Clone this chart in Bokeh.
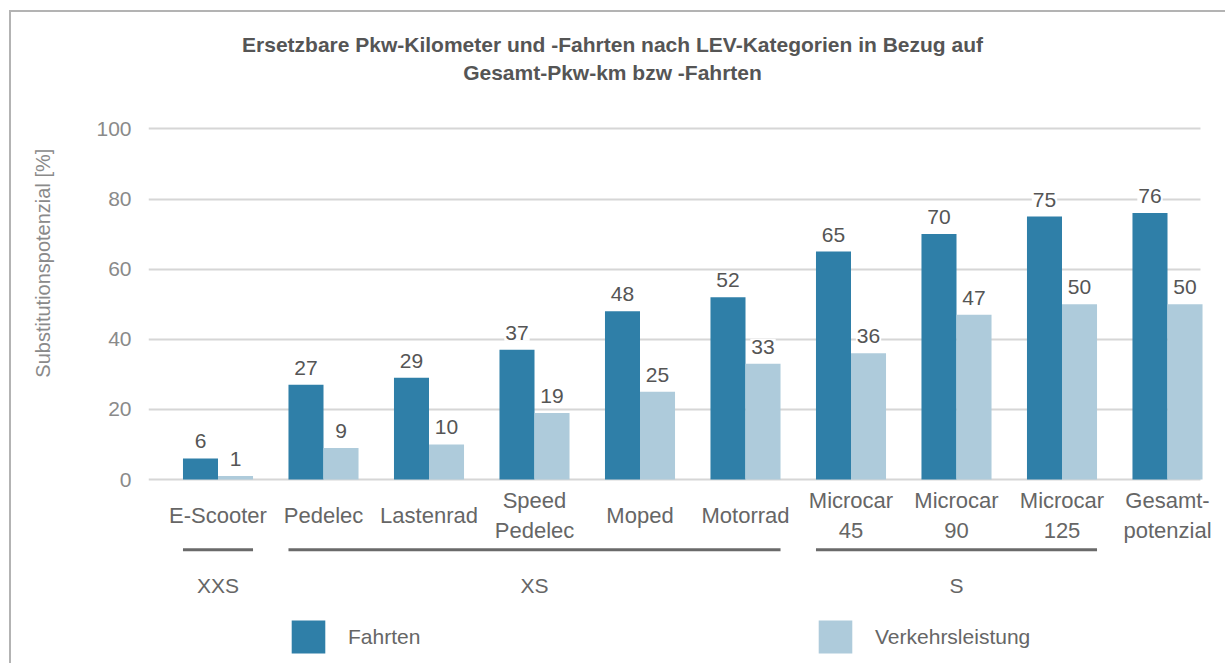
import numpy as np
from bokeh.plotting import figure
from bokeh.models import Range1d, FixedTicker, ColumnDataSource, Label, Legend, LegendItem
from bokeh.core.properties import value
from bokeh.embed import file_html
from bokeh.resources import INLINE

# ---- data ----
categories = ["E-Scooter", "Pedelec", "Lastenrad", "Speed\nPedelec", "Moped", "Motorrad",
              "Microcar\n45", "Microcar\n90", "Microcar\n125", "Gesamt-\npotenzial"]
fahrten = [6, 27, 29, 37, 48, 52, 65, 70, 75, 76]
verkehrsleistung = [1, 9, 10, 19, 25, 33, 36, 47, 50, 50]
groups = ["XXS", "XS", "S"]
group_first = [0, 1, 6]
group_last = [0, 5, 8]
y_ticks = [0, 20, 40, 60, 80, 100]
series_names = ["Fahrten", "Verkehrsleistung"]
title_text = "Ersetzbare Pkw-Kilometer und -Fahrten nach LEV-Kategorien in Bezug auf\nGesamt-Pkw-km bzw -Fahrten"
y_title = "Substitutionspotenzial [%]"

# ---- style ----
FONT = value("Liberation Sans")
DARK = "#2f7fa8"
LIGHT = "#aecbdb"
TXT = "#666666"
off = 0.166
bw = 0.332
X0, X1, XG = -0.6588, 9.5687, 9.3128

x = np.arange(len(categories))

p = figure(width=1216, height=653, output_backend="svg", toolbar_location=None,
           x_range=Range1d(X0, X1), y_range=Range1d(-53.05, 133.2),
           x_axis_location=None, min_border_left=137, min_border_right=0,
           min_border_top=0, min_border_bottom=0)
p.styles = {"margin-left": "9px", "margin-top": "10px",
            "border-top": "2px solid #b3b3b3", "border-left": "2px solid #b3b3b3"}
p.outline_line_color = None
p.background_fill_color = "white"
p.border_fill_color = "white"
p.xgrid.grid_line_color = None

p.yaxis.ticker = FixedTicker(ticks=y_ticks)
p.yaxis.axis_line_color = None
p.yaxis.major_tick_line_color = None
p.yaxis.minor_tick_line_color = None
p.yaxis.major_tick_out = 0
p.yaxis.major_tick_in = 0
p.yaxis.minor_tick_out = 0
p.yaxis.major_label_standoff = 17
p.yaxis.major_label_text_font = "Liberation Sans"
p.yaxis.major_label_text_font_size = "21px"
p.yaxis.major_label_text_color = "#8a8a8a"

grid = p.ygrid[0]
grid.ticker = FixedTicker(ticks=y_ticks)
grid.grid_line_color = "#d6d6d6"
grid.grid_line_width = 2
if "cross_bounds" in grid.properties():
    grid.cross_bounds = (X0, XG)
else:
    grid.grid_line_color = None
    p.segment(x0=[X0] * len(y_ticks), x1=[XG] * len(y_ticks), y0=y_ticks, y1=y_ticks,
              line_color="#d6d6d6", line_width=2, level="underlay")

src = ColumnDataSource(dict(
    xd=x - off, xl=x + off, f=fahrten, v=verkehrsleistung,
    ft=[str(a) for a in fahrten], vt=[str(a) for a in verkehrsleistung],
))
r1 = p.vbar(x="xd", top="f", width=bw, source=src, fill_color=DARK, line_color=None)
r2 = p.vbar(x="xl", top="v", width=bw, source=src, fill_color=LIGHT, line_color=None)

for xc, yc, tc in (("xd", "f", "ft"), ("xl", "v", "vt")):
    p.text(x=xc, y=yc, text=tc, source=src, text_align="center", text_baseline="middle",
           y_offset=-17, text_font=FONT, text_font_size="21px", text_color="#555555",
           background_fill_color="white", padding=1)

# category labels
p.text(x=x, y=[-10.3] * len(categories), text=categories, text_align="center",
       text_baseline="middle", text_font=FONT, text_font_size="22px", text_color=TXT,
       text_line_height=1.2)

# group lines and labels
gf = np.array(group_first)
gl = np.array(group_last)
p.segment(x0=gf - off - bw / 2, x1=gl + off + bw / 2, y0=[-20] * 3, y1=[-20] * 3,
          line_color="#6a6a6a", line_width=3)
p.text(x=(gf + gl) / 2, y=[-30.2] * 3, text=groups, text_align="center",
       text_baseline="middle", text_font=FONT, text_font_size="21px", text_color=TXT)

# legend
legend = Legend(items=[LegendItem(label=series_names[0], renderers=[r1]),
                       LegendItem(label=series_names[1], renderers=[r2])],
                location=(139, 8), orientation="horizontal", glyph_width=42, glyph_height=41,
                label_standoff=19, label_width=150, spacing=316, padding=0, margin=0,
                border_line_color=None, background_fill_alpha=0,
                label_text_font="Liberation Sans", label_text_font_size="21px",
                label_text_color=TXT)
p.add_layout(legend)

# y axis title (placed in the left side panel, next to the axis)
p.add_layout(Label(x=-29, y=61.7, x_units="screen", y_units="data", text=y_title, angle=90,
                   angle_units="deg", text_align="center", text_baseline="middle",
                   text_font="Liberation Sans", text_font_size="20px",
                   text_color="#8a8a8a"), "left")

# chart title
p.add_layout(Label(x=464, y=120.1, x_units="screen", y_units="data", text=title_text,
                   text_align="center", text_baseline="middle", text_font="Liberation Sans",
                   text_font_style="bold", text_font_size="21px", text_color="#555555",
                   text_line_height=1.25))

open("out.html", "w").write(file_html(p, INLINE))
